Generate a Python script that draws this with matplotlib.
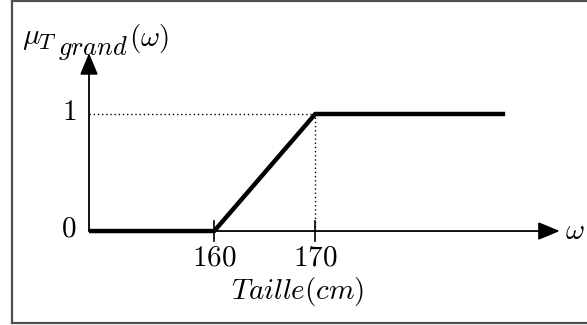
import matplotlib
matplotlib.use("Agg")
from matplotlib import pyplot as plt

plt.rcParams['mathtext.fontset'] = 'cm'

# fonction d'appartenance "grand" sur la taille (cm)
taille = [147.6, 160, 170, 188.8]
mu_grand = [0, 0, 1, 1]
ticks = [160, 170]
tick_labels = ['160', '170']
y_ticks = [0, 1]

x_axis_end = 194.2
y_axis_end = 1.52

fig = plt.figure(figsize=(5.87, 3.25), dpi=100)
ax = fig.add_axes([0, 0, 1, 1])
ax.set_xlim(138.79, 196.9)
ax.set_ylim(-0.803, 1.974)
ax.axis('off')

# cadre
box = dict(color='#505050', lw=1.6, transform=ax.transAxes, clip_on=False)
ax.plot([12 / 587, 12 / 587], [2 / 325, 1 - 1 / 325], **box)
ax.plot([12 / 587, 1.01], [1 - 1 / 325, 1 - 1 / 325], **box)
ax.plot([12 / 587, 1.01], [2 / 325, 2 / 325], **box)

x0 = taille[0]
# axes avec fleches
arrow = dict(arrowstyle='-|>,head_length=1.2,head_width=0.5', color='black', lw=1.3,
             shrinkA=0, shrinkB=0, mutation_scale=11)
ax.annotate('', xy=(x_axis_end, 0), xytext=(x0, 0), arrowprops=arrow)
ax.annotate('', xy=(x0, y_axis_end), xytext=(x0, 0), arrowprops=arrow)

# pointilles vers le point (170, 1)
ax.plot([x0, taille[2]], [1, 1], color='black', lw=1.0, ls=(0, (1, 2)))
ax.plot([taille[2], taille[2]], [0, 1], color='black', lw=1.0, ls=(0, (1, 2)))

# graduations
for t, lab in zip(ticks, tick_labels):
    ax.plot([t, t], [-0.085, 0.085], color='black', lw=1.2)
    ax.text(t, -0.23, '$' + lab + '$', ha='center', va='center', fontsize=21)

for v in y_ticks:
    ax.text(x0 - 2.0, v + 0.02, '$%d$' % v, ha='center', va='center', fontsize=21)

ax.plot(taille, mu_grand, color='black', lw=3.2, solid_capstyle='butt')

# etiquette de l'axe vertical, indices composes a la main
anchor = (140.97, 1.598)
parts = [(r'$\mu$', 21, (0, 0)),
         (r'$T$', 16.5, (16, -5)),
         (r'$grand$', 19, (36, -11)),
         (r'$(\omega)$', 21, (107, -2))]
for s, size, off in parts:
    ax.annotate(s, xy=anchor, xytext=off, textcoords='offset pixels',
                ha='left', va='baseline', fontsize=size)

ax.text(194.7, 0.0, r'$\omega$', ha='left', va='center', fontsize=21)
ax.text(168.3, -0.52, r'$Taille(cm)$', ha='center', va='center', fontsize=21)

plt.savefig('out.png', dpi=100)
